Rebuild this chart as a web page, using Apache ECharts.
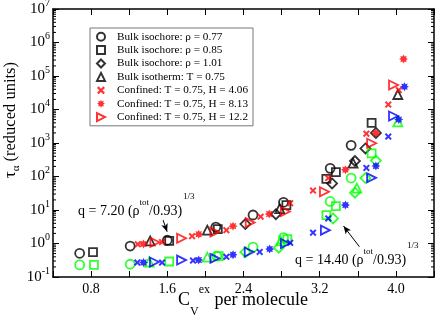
<!DOCTYPE html>
<html>
<head>
<meta charset="utf-8">
<script src="https://cdn.jsdelivr.net/npm/echarts@6/dist/echarts.min.js"></script>
<style>
  html, body { margin: 0; padding: 0; background: #fff; }
  #chart { width: 436px; height: 322px; }
</style>
</head>
<body>
<div id="chart"></div>
<script>
  /******************/
  //region    //data

  // q = 7.20 (black / red), q = 14.40 (green / blue); [Cv_ex, tau]
  let circleQ1 = [[0.68, 0.51], [1.21, 0.84], [1.60, 1.25], [2.11, 3.1], [2.50, 7.1], [2.82, 17], [3.31, 175], [3.53, 850]];
  let squareQ1 = [[0.82, 0.55], [1.62, 1.2], [2.13, 2.7], [2.85, 14], [3.27, 85], [3.37, 135], [3.745, 4000]];
  let diamondQ1 = [[2.42, 3.8], [2.74, 7.5], [3.33, 62], [3.57, 290], [3.68, 690], [3.79, 2000]];
  let triangleQ1 = [[1.42, 1.19], [2.02, 2.5], [2.78, 11], [3.55, 250], [4.02, 28000]];
  let crossQ1 = [[1.29, 0.95], [1.545, 1.1], [1.86, 1.65], [2.22, 2.5], [2.58, 6.3], [2.89, 16], [3.13, 38], [3.29, 90], [3.69, 1900], [3.92, 14000], [4.03, 38000]];
  let starQ1 = [[1.35, 0.97], [1.93, 1.9], [2.29, 3.3], [2.67, 7.6], [3.47, 160], [3.79, 1950], [4.08, 320000]];
  let rtriQ1 = [[1.47, 1.09], [1.75, 1.43], [2.10, 2.2], [2.47, 4.2], [2.84, 9], [3.25, 35], [3.745, 980], [3.975, 54000]];

  let circleQ2 = [[0.68, 0.23], [1.21, 0.24], [2.12, 0.42], [2.50, 0.78], [2.82, 1.5], [3.31, 18], [3.53, 90]];
  let squareQ2 = [[0.83, 0.23], [1.62, 0.29], [2.14, 0.42], [2.86, 1.35], [3.27, 7], [3.37, 13], [3.745, 490]];
  let diamondQ2 = [[2.42, 0.55], [2.77, 0.75], [3.34, 5.6], [3.57, 33], [3.68, 90], [3.79, 300]];
  let triangleQ2 = [[1.41, 0.28], [2.02, 0.39], [2.79, 1.2], [3.59, 45], [4.02, 4300]];
  let crossQ2 = [[1.285, 0.27], [1.545, 0.27], [1.87, 0.31], [2.22, 0.4], [2.57, 0.56], [2.89, 1.05], [3.13, 2.1], [3.29, 5.6], [3.69, 180], [3.92, 1550]];
  let starQ2 = [[1.35, 0.27], [1.93, 0.32], [2.29, 0.46], [2.675, 0.68], [3.47, 14], [3.79, 205], [4.03, 5000], [4.09, 48000]];
  let rtriQ2 = [[1.465, 0.28], [1.75, 0.32], [2.10, 0.36], [2.46, 0.56], [2.84, 1.0], [3.26, 2.5], [3.745, 91], [3.975, 6400]];

  let legendNames = [
    'Bulk isochore: ρ = 0.77',
    'Bulk isochore: ρ = 0.85',
    'Bulk isochore: ρ = 1.01',
    'Bulk isotherm: T = 0.75',
    'Confined: T = 0.75, H = 4.06',
    'Confined: T = 0.75, H = 8.13',
    'Confined: T = 0.75, H = 12.2',
  ];

  let xMin = 0.4, xMax = 4.4, xStep = 0.4;
  let yMin = 0.1, yMax = 1e7;

  //endregion

  /******************/
  //region    //initialize

  const FONT = '"Liberation Serif", "Times New Roman", serif';

  // symbol shapes
  let crossPath = 'path://M0,2L2,0L5,3L8,0L10,2L7,5L10,8L8,10L5,7L2,10L0,8L3,5Z';
  let rtriPath = 'path://M0,0L10,5L0,10Z';
  let starPath = (() => {
    let s = 'path://';
    for (let i = 0; i < 16; i++) {
      let a = i * Math.PI / 8 - Math.PI / 2;
      let r = i % 2 ? 6 : 10;
      s += (i ? 'L' : 'M') + (10 + r * Math.cos(a)).toFixed(2) + ',' + (10 + r * Math.sin(a)).toFixed(2);
    }
    return s + 'Z';
  })();

  // minor ticks of the log axis (2..9 per decade)
  let minorTicks = [];
  for (let e = -1; e < 7; e++) {
    for (let k = 2; k <= 9; k++) minorTicks.push([xMin, k * Math.pow(10, e)]);
  }

  let measureCtx = document.createElement('canvas').getContext('2d');

  //endregion

  /******************/
  //region    //function

  function scatter(name, data, symbol, color, hollow, size) {
    return {
      type: 'scatter',
      name: name,
      data: data,
      symbol: symbol,
      symbolSize: size,
      itemStyle: hollow
        ? {color: 'rgba(0,0,0,0)', borderColor: color, borderWidth: 1.8}
        : {color: color, borderWidth: 0},
      emphasis: {disabled: true},
      silent: true,
    };
  }

  function minorTickSeries() {
    return {
      type: 'custom',
      name: 'minor',
      data: minorTicks,
      silent: true,
      clip: false,
      z: 5,
      renderItem(params, api) {
        let v = api.value(1);
        let a = api.coord([xMin, v]);
        let b = api.coord([xMax, v]);
        return {
          type: 'group',
          children: [
            {type: 'line', shape: {x1: a[0], y1: a[1], x2: a[0] + 3, y2: a[1]}, style: {stroke: '#000', lineWidth: 1}},
            {type: 'line', shape: {x1: b[0] - 3, y1: b[1], x2: b[0], y2: b[1]}, style: {stroke: '#000', lineWidth: 1}},
          ]
        };
      }
    };
  }

  /**
   * text pieces with sub / superscripts, laid out one after another
   * parts: [text, fontSize, dy, gapBefore]
   */
  function pieces(x0, y0, parts, center) {
    let widths = parts.map(p => {
      measureCtx.font = p[1] + 'px ' + FONT;
      return measureCtx.measureText(p[0]).width + (p[3] || 0);
    });
    let total = widths.reduce((s, w) => s + w, 0);
    let x = center ? x0 - total / 2 : x0;
    return parts.map((p, i) => {
      let el = {
        type: 'text', silent: true,
        x: x + (p[3] || 0), y: y0 + p[2],
        style: {text: p[0], font: p[1] + 'px ' + FONT, fill: '#000', align: 'left', verticalAlign: 'middle'}
      };
      x += widths[i];
      return el;
    });
  }

  function deployChart() {
    let chart = echarts.init(document.getElementById('chart'));

    let circle1 = scatter(legendNames[0], circleQ1, 'circle', '#000', true, 9);
    circle1.markLine = {
      silent: true,
      animation: false,
      symbol: ['none', 'arrow'],
      symbolSize: [5, 8],
      label: {show: false},
      emphasis: {disabled: true},
      lineStyle: {color: '#000', width: 1, type: 'solid'},
      data: [
        [{coord: [1.556, 5.0]}, {coord: [1.598, 2.25]}],
        [{coord: [3.617, 0.8]}, {coord: [3.45, 3.33]}],
      ]
    };

    let series = [
      circle1,
      scatter(legendNames[1], squareQ1, 'rect', '#000', true, 8),
      scatter(legendNames[2], diamondQ1, 'diamond', '#000', true, 10),
      scatter(legendNames[3], triangleQ1, 'triangle', '#000', true, 9),
      scatter(legendNames[4], crossQ1, crossPath, '#ff0000', false, 7),
      scatter(legendNames[5], starQ1, starPath, '#ff0000', false, 9),
      scatter(legendNames[6], rtriQ1, rtriPath, '#ff0000', true, 9),
      scatter('q2 circle', circleQ2, 'circle', '#00ff00', true, 9),
      scatter('q2 square', squareQ2, 'rect', '#00ff00', true, 8),
      scatter('q2 diamond', diamondQ2, 'diamond', '#00ff00', true, 10),
      scatter('q2 triangle', triangleQ2, 'triangle', '#00ff00', true, 9),
      scatter('q2 cross', crossQ2, crossPath, '#0000ff', false, 7),
      scatter('q2 star', starQ2, starPath, '#0000ff', false, 9),
      scatter('q2 rtri', rtriQ2, rtriPath, '#0000ff', true, 9),
      minorTickSeries(),
    ];

    let axisLine = {show: true, onZero: false, lineStyle: {color: '#000', width: 1.5}};
    let tick = {show: true, inside: true, length: 6, lineStyle: {color: '#000', width: 1}};

    let graphic = []
      .concat(pieces(78, 211, [['q = 7.20 (ρ', 14, 0], ['tot', 9, -8.5], ['/0.93)', 14, 0], ['1/3', 9, -14, 1]]))
      .concat(pieces(295, 260, [['q = 14.40 (ρ', 14, 0], ['tot', 9, -8.5], ['/0.93)', 14, 0], ['1/3', 9, -14, 1]]))
      .concat(pieces(243, 300, [['C', 18, 0], ['V', 12, 12], ['ex', 12, -10], [' per molecule', 18, 0]], true));

    graphic.push({
      type: 'group', x: 11, y: 120, rotation: Math.PI / 2, silent: true,
      children: pieces(0, 0, [['τ', 16.5, 0], ['α', 11, 5], [' (reduced units)', 16.5, 0]], true)
    });

    let option = {
      animation: false,
      grid: {left: 53, right: 2, top: 9, bottom: 45, containLabel: false, outerBoundsMode: 'none'},
      legend: {
        orient: 'vertical',
        left: 90,
        top: 28,
        padding: [2, 5, 2, 6],
        itemGap: 0,
        itemWidth: 8,
        itemHeight: 8,
        borderColor: '#777',
        borderWidth: 1,
        backgroundColor: '#fff',
        selectedMode: false,
        textStyle: {fontFamily: FONT, fontSize: 11.2, lineHeight: 13.4, color: '#000', padding: [0, 0, 0, 7]},
        data: legendNames,
        z: 10,
      },
      xAxis: [
        {
          type: 'value', min: xMin, max: xMax, interval: xStep, position: 'bottom',
          axisLine: axisLine, axisTick: tick, splitLine: {show: false},
          axisLabel: {
            color: '#000', fontFamily: FONT, fontSize: 14, margin: 5,
            formatter(v) {
              let r = v / 0.8;
              return Math.abs(r - Math.round(r)) < 1e-6 ? v.toFixed(1) : '';
            }
          },
        },
        {
          type: 'value', min: xMin, max: xMax, interval: xStep, position: 'top',
          axisLine: axisLine, axisTick: tick, splitLine: {show: false}, axisLabel: {show: false},
        }
      ],
      yAxis: [
        {
          type: 'log', logBase: 10, min: yMin, max: yMax, splitNumber: 8, position: 'left',
          axisLine: axisLine, axisTick: tick, splitLine: {show: false},
          axisLabel: {
            margin: 3,
            formatter(v) {
              let e = Math.round(Math.log10(v));
              return '{b|10}{s|' + e + '}';
            },
            rich: {
              b: {fontSize: 15, lineHeight: 22, fontFamily: FONT, color: '#000'},
              s: {fontSize: 10, verticalAlign: 'top', fontFamily: FONT, color: '#000'},
            }
          },
        },
        {
          type: 'log', logBase: 10, min: yMin, max: yMax, splitNumber: 8, position: 'right',
          axisLine: axisLine, axisTick: tick, splitLine: {show: false}, axisLabel: {show: false},
        }
      ],
      graphic: graphic,
      series: series,
    };

    chart.setOption(option);
  }

  deployChart();

  //endregion
</script>
</body>
</html>
